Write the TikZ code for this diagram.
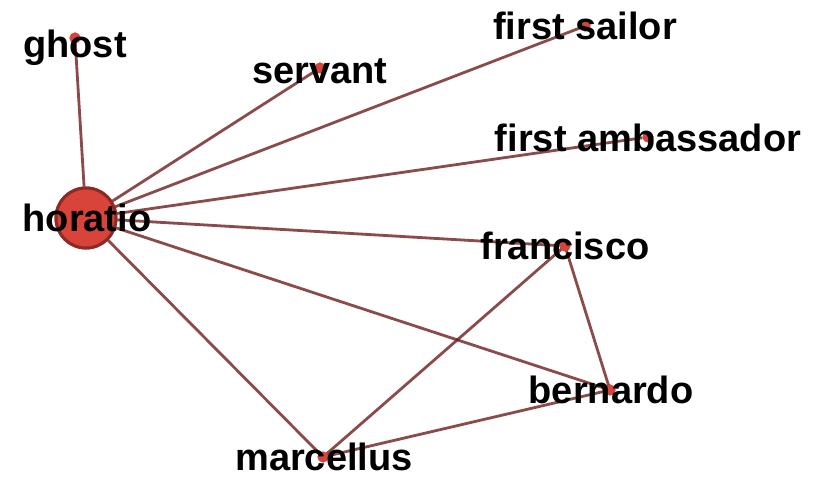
\documentclass[tikz,border=0pt]{standalone}
\usepackage{fontspec}
\setmainfont{Liberation Sans}
\definecolor{edgec}{HTML}{6E1E1E}
\definecolor{nodefill}{HTML}{D9443A}
\definecolor{nodeborder}{HTML}{8E2A24}
\tikzset{
  edge/.style={draw=edgec, line width=2.8pt, draw opacity=0.8},
  dot/.style={circle, fill=nodefill, inner sep=0pt, minimum size=11pt},
  hub/.style={circle, fill=nodefill, draw=nodeborder, line width=3pt, inner sep=0pt, minimum size=60pt},
  lbl/.style={anchor=base, inner sep=0pt, font=\fontsize{38}{40}\selectfont\bfseries, text=black}
}
\begin{document}
\begin{tikzpicture}[x=1pt,y=-1pt]
\useasboundingbox (0,0) rectangle (817,478);
% nodes
\node[hub] (horatio) at (86,218) {};
\node[dot] (ghost) at (75,38) {};
\node[dot] (servant) at (320,68) {};
\node[dot] (sailor) at (585,26) {};
\node[dot] (ambassador) at (648,137) {};
\node[dot] (francisco) at (565,246) {};
\node[dot] (bernardo) at (610,390) {};
\node[dot] (marcellus) at (323,457) {};
% edges
\draw[edge] (horatio) -- (ghost);
\draw[edge] (horatio) -- (servant);
\draw[edge] (horatio) -- (sailor);
\draw[edge] (horatio) -- (ambassador);
\draw[edge] (horatio) -- (francisco);
\draw[edge] (horatio) -- (bernardo);
\draw[edge] (horatio) -- (marcellus);
\draw[edge] (francisco.center) -- (marcellus.center);
\draw[edge] (francisco.center) -- (bernardo.center);
\draw[edge] (bernardo.center) -- (marcellus.center);
% redraw dots above edges
\node[hub] at (horatio) {};
\node[dot] at (ghost) {};
\node[dot] at (servant) {};
\node[dot] at (sailor) {};
\node[dot] at (ambassador) {};
\node[dot] at (francisco) {};
\node[dot] at (bernardo) {};
\node[dot] at (marcellus) {};
% labels
\node[lbl] (lghost) at (75,58) {ghost};
\node[lbl] (lservant) at (320,84) {servant};
\node[lbl] (lsailor) at (585,40) {first sailor};
\node[lbl] (lambassador) at (648,152) {first ambassador};
\node[lbl] (lhoratio) at (87,232) {horatio};
\node[lbl] (lfrancisco) at (565,260) {francisco};
\node[lbl] (lbernardo) at (611,403) {bernardo};
\node[lbl] (lmarcellus) at (324,470) {marcellus};
\end{tikzpicture}
\end{document}
